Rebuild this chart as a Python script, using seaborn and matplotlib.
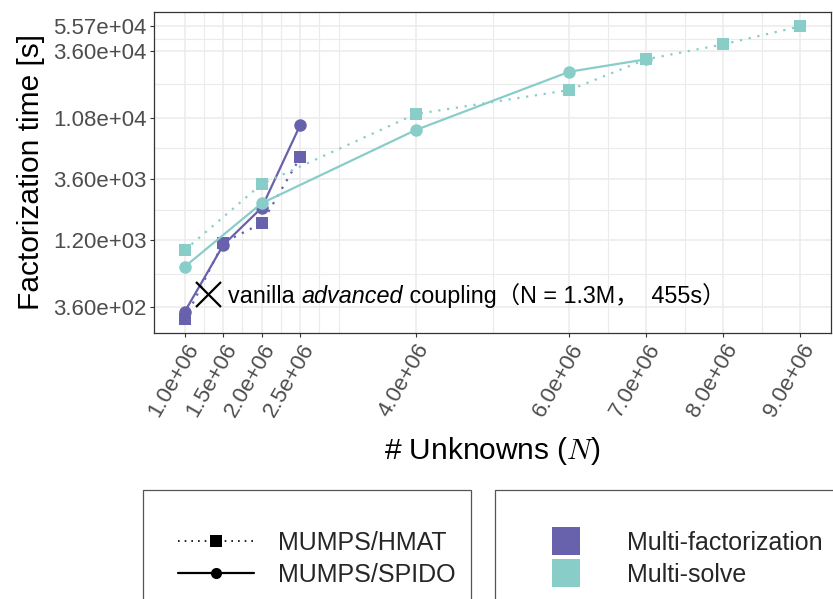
import numpy as np
import pandas as pd
import matplotlib
matplotlib.use("Agg")
import matplotlib.pyplot as plt
import seaborn as sns
from matplotlib.lines import Line2D
from matplotlib.patches import Rectangle
from matplotlib.ticker import FixedLocator, FixedFormatter

# ---------------- data ----------------
methods = ["Multi-factorization", "Multi-solve"]
solvers = ["MUMPS/HMAT", "MUMPS/SPIDO"]

mf_hmat_n = [1.0e6, 1.5e6, 2.0e6, 2.5e6]
mf_hmat_t = [290, 1150, 1625, 5300]
mf_spido_n = [1.0e6, 1.5e6, 2.0e6, 2.5e6]
mf_spido_t = [333, 1100, 2150, 9475]
ms_hmat_n = [1.0e6, 2.0e6, 4.0e6, 6.0e6, 7.0e6, 8.0e6, 9.0e6]
ms_hmat_t = [1006, 3290, 11540, 17780, 30860, 40380, 55700]
ms_spido_n = [1.0e6, 2.0e6, 4.0e6, 6.0e6, 7.0e6]
ms_spido_t = [746, 2330, 8660, 24700, 30860]

x_ticks = [1.0e6, 1.5e6, 2.0e6, 2.5e6, 4.0e6, 6.0e6, 7.0e6, 8.0e6, 9.0e6]
x_tick_labels = ["1.0e+06", "1.5e+06", "2.0e+06", "2.5e+06", "4.0e+06",
                 "6.0e+06", "7.0e+06", "8.0e+06", "9.0e+06"]
x_minor = [1.25e6, 1.75e6, 2.25e6, 2.75e6, 3.0e6, 5.0e6, 6.5e6, 7.5e6, 8.5e6]
y_ticks = [360, 1200, 3600, 10800, 36000, 55700]
y_tick_labels = ["3.60e+02", "1.20e+03", "3.60e+03", "1.08e+04", "3.60e+04", "5.57e+04"]

vanilla_n = 1.3e6
vanilla_t = 455

# ---------------- table ----------------
rows = []
for m, s, ns, ts in [(methods[0], solvers[0], mf_hmat_n, mf_hmat_t),
                     (methods[0], solvers[1], mf_spido_n, mf_spido_t),
                     (methods[1], solvers[0], ms_hmat_n, ms_hmat_t),
                     (methods[1], solvers[1], ms_spido_n, ms_spido_t)]:
    for n, t in zip(ns, ts):
        rows.append({"N": n, "time": t, "method": m, "solver": s})
df = pd.DataFrame(rows)

# ---------------- style ----------------
sns.set_theme(style="white")
plt.rcParams["font.family"] = ["Liberation Sans", "Noto Sans CJK SC", "DejaVu Sans"]
plt.rcParams["mathtext.fontset"] = "cm"

purple = "#6762AB"
teal = "#89CDC9"
palette = {methods[0]: purple, methods[1]: teal}
grid_c = "#EBEBEB"
dark = "#333333"
tick_c = "#4D4D4D"

W, H, DPI = 833, 599, 100
fig = plt.figure(figsize=(W / DPI, H / DPI), dpi=DPI)
ax = fig.add_axes([154 / W, 1 - 333 / H, (831 - 154) / W, (333 - 12) / H])

sns.lineplot(data=df, x="N", y="time", hue="method", style="solver",
             hue_order=methods, style_order=solvers, palette=palette,
             markers={solvers[0]: "s", solvers[1]: "o"},
             dashes={solvers[0]: (1, 3), solvers[1]: ""},
             estimator=None, sort=True, legend=False, ax=ax,
             linewidth=1.6, markersize=9, markeredgewidth=0, zorder=3)

ax.set_yscale("log")
ax.set_xlim(0.6e6, 9.4e6)
ax.set_ylim(227, 72100)

# grid
for xv in x_ticks:
    ax.axvline(xv, color=grid_c, lw=1.1, zorder=0)
for xv in x_minor:
    ax.axvline(xv, color=grid_c, lw=0.8, zorder=0)
ly = np.log10(y_ticks)
for yv in y_ticks:
    ax.axhline(yv, color=grid_c, lw=1.1, zorder=0)
for a, b in zip(ly[:-1], ly[1:]):
    ax.axhline(10 ** ((a + b) / 2), color=grid_c, lw=0.8, zorder=0)
ax.axhline(10 ** (ly[0] - (ly[1] - ly[0]) / 2), color=grid_c, lw=0.8, zorder=0)

ax.xaxis.set_major_locator(FixedLocator(x_ticks))
ax.xaxis.set_major_formatter(FixedFormatter(x_tick_labels))
ax.yaxis.set_major_locator(FixedLocator(y_ticks))
ax.yaxis.set_major_formatter(FixedFormatter(y_tick_labels))
ax.yaxis.set_minor_locator(FixedLocator([]))
ax.xaxis.set_minor_locator(FixedLocator([]))

ax.tick_params(axis="both", which="major", length=3.2, width=0.8, color=dark,
               labelsize=16, labelcolor=tick_c, pad=2, bottom=True, left=True)
for lab in ax.get_xticklabels():
    lab.set_rotation(60)
    lab.set_ha("right")
    lab.set_va("top")
    lab.set_rotation_mode("anchor")

for sp in ax.spines.values():
    sp.set_color(dark)
    sp.set_linewidth(0.9)

ax.set_xlabel("# Unknowns ($N$)", fontsize=21.5, color="black", labelpad=10)
ax.set_ylabel("Factorization time [s]", fontsize=21.5, color="black", labelpad=6)

# annotation
ax.plot([vanilla_n], [vanilla_t], marker="x", color="black", ms=18, mew=1.6,
        ls="none", zorder=4)
fs_ann = 16.8
x0 = 14.5
parts = [("vanilla ", "normal"), ("advanced", "italic"),
         (" coupling（N = 1.3M，  455s）", "normal")]
fig.canvas.draw()
r = fig.canvas.get_renderer()
off = x0
for txt, st in parts:
    t = ax.annotate(txt, xy=(vanilla_n, vanilla_t), xytext=(off, -6.5),
                    textcoords="offset points", ha="left", va="baseline",
                    fontsize=fs_ann, style=st, color="black", zorder=5)
    w = t.get_window_extent(r).width * 72 / DPI
    off += w

# legend boxes (drawn as frames in figure coordinates)
box_c = "#555555"
fig.add_artist(Rectangle((143 / W, -0.2), (471 - 143) / W, 0.2 + 1 - 490 / H,
                         transform=fig.transFigure, fill=False,
                         edgecolor=box_c, lw=0.9))
fig.add_artist(Rectangle((495 / W, -0.2), 0.5, 0.2 + 1 - 490 / H,
                         transform=fig.transFigure, fill=False,
                         edgecolor=box_c, lw=0.9))

# legends
fs_leg = 18
lh = [Line2D([], [], color="black", ls=(0, (1, 3)), lw=1.2, marker="s", ms=8, mew=0),
      Line2D([], [], color="black", ls="-", lw=1.6, marker="o", ms=8, mew=0)]
fig.legend(lh, solvers, loc="upper left",
           bbox_to_anchor=(178 / W, 1 - 531 / H), borderaxespad=0, borderpad=0,
           frameon=False, fontsize=fs_leg,
           handlelength=3.04, handletextpad=0.96, labelspacing=0.3)

ph = [Line2D([], [], ls="none", marker="s", ms=20, mew=0, color=purple),
      Line2D([], [], ls="none", marker="s", ms=20, mew=0, color=teal)]
fig.legend(ph, methods, loc="upper left",
           bbox_to_anchor=(530 / W, 1 - 531 / H), borderaxespad=0, borderpad=0,
           frameon=False, fontsize=fs_leg,
           handlelength=2.88, handletextpad=1.0, labelspacing=0.3)

fig.savefig("out.png", dpi=DPI)
